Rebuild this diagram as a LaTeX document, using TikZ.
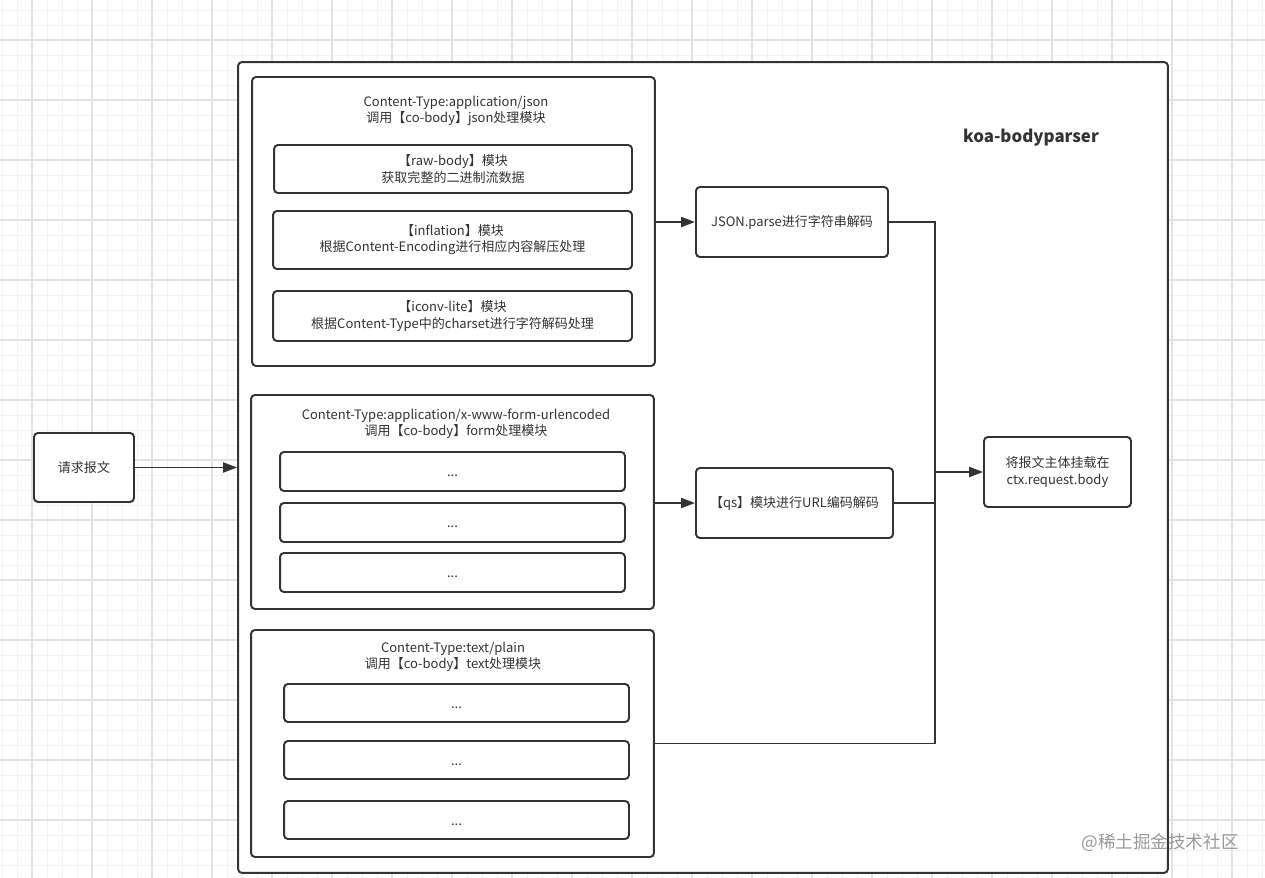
\documentclass[tikz,border=0pt]{standalone}
\usepackage{fontspec}
\setmainfont{Noto Sans CJK SC}
\usetikzlibrary{arrows.meta}
\definecolor{ink}{HTML}{333333}
\definecolor{gridminor}{HTML}{F2F2F2}
\definecolor{gridmajor}{HTML}{E3E3E3}
\tikzstyle{block} = [rectangle, draw=ink, line width=1.1pt, rounded corners=2.2pt, fill=white, text=ink, align=center, font=\fontsize{7.4}{9.2}\selectfont, inner sep=0pt]
\tikzstyle{group} = [block]
\tikzstyle{dotsbox} = [block, text height=5.8pt, text depth=0pt]
\tikzstyle{title} = [text=ink, align=center, font=\fontsize{7.4}{9.2}\selectfont]
\tikzstyle{arrow} = [draw=ink, line width=1.1pt, -{Triangle[length=2.8mm,width=2mm]}]
\tikzstyle{line} = [draw=ink, line width=1.1pt]

\begin{document}
\begin{tikzpicture}[x=0.02cm, y=-0.02cm]

    \useasboundingbox (0,0) rectangle (1265,878);

    % Background grid
    \foreach \gx in {2,17,...,1262} \draw [gridminor, line width=0.5pt] (\gx,0) -- (\gx,878);
    \foreach \gy in {10,25,...,870} \draw [gridminor, line width=0.5pt] (0,\gy) -- (1265,\gy);
    \foreach \gx in {32,92,...,1232} \draw [gridmajor, line width=0.6pt] (\gx,0) -- (\gx,878);
    \foreach \gy in {40,100,...,820} \draw [gridmajor, line width=0.6pt] (0,\gy) -- (1265,\gy);

    % Request
    \node (req) [block, minimum width=2cm, minimum height=1.38cm] at (84,467.5) {请求报文};

    % koa-bodyparser frame
    \node (koa) [block, minimum width=18.6cm, minimum height=16.22cm] at (703,467.5) {};
    \node (koa_label) [text=ink, font=\fontsize{9.6}{11}\selectfont\bfseries] at (1031,138) {koa-bodyparser};

    % application/json
    \node (jsongrp) [group, minimum width=8.06cm, minimum height=5.78cm] at (453.5,221.5) {};
    \node (jsongrp_title) [title] at (456,111) {Content-Type:application/json\\调用【co-body】json处理模块};
    \node (rawbody) [block, minimum width=7.16cm, minimum height=0.96cm] at (453,169) {【raw-body】模块\\获取完整的二进制流数据};
    \node (inflation) [block, minimum width=7.18cm, minimum height=1.16cm] at (452.5,240) {【inflation】模块\\根据Content-Encoding进行相应内容解压处理};
    \node (iconv) [block, minimum width=7.18cm, minimum height=1cm] at (452.5,316) {【iconv-lite】模块\\根据Content-Type中的charset进行字符解码处理};

    % x-www-form-urlencoded
    \node (formgrp) [group, minimum width=8.06cm, minimum height=4.28cm] at (452.5,502) {};
    \node (formgrp_title) [title] at (456,424) {Content-Type:application/x-www-form-urlencoded\\调用【co-body】form处理模块};
    \node (form1) [dotsbox, minimum width=6.9cm, minimum height=0.78cm] at (452.5,471.5) {...};
    \node (form2) [dotsbox, minimum width=6.9cm, minimum height=0.78cm] at (452.5,522.5) {...};
    \node (form3) [dotsbox, minimum width=6.9cm, minimum height=0.78cm] at (452.5,572.5) {...};

    % text/plain
    \node (textgrp) [group, minimum width=8.06cm, minimum height=4.54cm] at (452.5,743.5) {};
    \node (textgrp_title) [title] at (453,657) {Content-Type:text/plain\\调用【co-body】text处理模块};
    \node (text1) [dotsbox, minimum width=6.9cm, minimum height=0.76cm] at (456.5,703) {...};
    \node (text2) [dotsbox, minimum width=6.9cm, minimum height=0.76cm] at (456.5,760) {...};
    \node (text3) [dotsbox, minimum width=6.9cm, minimum height=0.76cm] at (456.5,820) {...};

    % Decoders and result
    \node (jsonparse) [block, minimum width=3.84cm, minimum height=1.4cm] at (792,222) {JSON.parse进行字符串解码};
    \node (qs) [block, minimum width=3.94cm, minimum height=1.4cm] at (794.5,503) {【qs】模块进行URL编码解码};
    \node (result) [block, minimum width=2.94cm, minimum height=1.4cm] at (1057.5,472) {将报文主体挂载在\\ctx.request.body};
    \coordinate (merge) at (935,472);

    % Watermark
    \node (mark) [text=black!40, font=\fontsize{10}{12}\selectfont] at (1160,843) {@稀土掘金技术社区};

    % ==== Arrows
    \draw [arrow] (req) -- (koa.west |- req);
    \draw [arrow] (jsongrp.east |- jsonparse) -- (jsonparse);
    \draw [arrow] (formgrp.east |- qs) -- (qs);
    \draw [line] (jsonparse.east) -| (merge);
    \draw [line] (qs.east) -| (merge);
    \draw [line] (textgrp.east) -| (merge);
    \draw [arrow] (merge) -- (result);

\end{tikzpicture}
\end{document}
